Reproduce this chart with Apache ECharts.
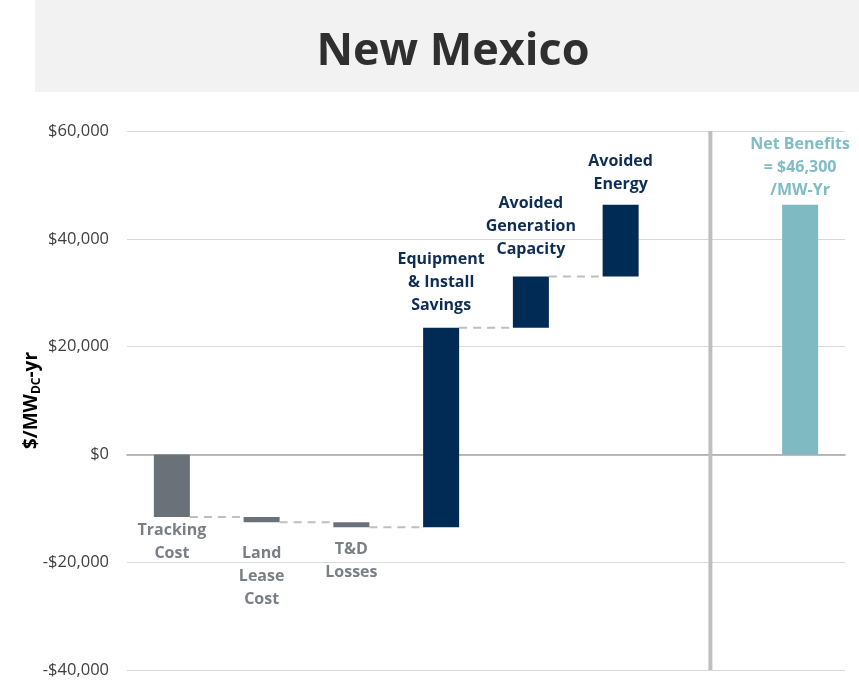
<!DOCTYPE html>
<html lang="en">
<head>
	<meta charset="UTF-8">
	<title>New Mexico</title>
	<style>
		html,body{background-color:#fff;height:100%;overflow:hidden;margin:0;padding:0;}
		#main{width:859px;height:682px;}
	</style>
</head>
<body>
	<div id="main"></div>
	<script src="https://cdn.jsdelivr.net/npm/echarts@6/dist/echarts.min.js"></script>
	<script>
		// waterfall steps, $/MW-yr ('' = gap for the separator line)
		var categories = ['Tracking\nCost', 'Land\nLease\nCost', 'T&D\nLosses', 'Equipment\n& Install\nSavings', 'Avoided\nGeneration\nCapacity', 'Avoided\nEnergy', '', 'Net Benefits\n= $46,300\n/MW-Yr'];
		var deltas = [-11600, -1000, -900, 37000, 9500, 13300, null, 46300];
		var yTicks = [-40000, -20000, 0, 20000, 40000, 60000];

		// label gap from bar end, px (style only)
		var labelGap = [2, 20, 11, 11, 16, 9, 0, 3];

		var GRAY = '#6b7179', NAVY = '#002b54', TEAL = '#7fbac3';

		var rows = [], run = 0;
		for (var i = 0; i < categories.length; i++) {
			if (deltas[i] === null) { rows.push([i, 0, 0]); continue; }
			if (i === categories.length - 1) { rows.push([i, 0, deltas[i]]); continue; }
			rows.push([i, run, run + deltas[i]]);
			run += deltas[i];
		}

		function fmt(v) {
			var s = Math.abs(v).toLocaleString('en-US');
			return (v < 0 ? '-$' : '$') + s;
		}

		function renderItem(params, api) {
			var idx = api.value(0);
			var cs = params.coordSys;
			if (categories[idx] === '') {
				var cx = api.coord([idx, 0])[0];
				return {
					type: 'line',
					shape: {x1: cx, y1: cs.y, x2: cx, y2: cs.y + cs.height},
					style: {stroke: '#bfbfbf', lineWidth: 4}
				};
			}
			var a = api.coord([idx, api.value(1)]);
			var b = api.coord([idx, api.value(2)]);
			var w = 36;
			var last = idx === categories.length - 1;
			var up = api.value(2) >= api.value(1);
			var fill = last ? TEAL : (up ? NAVY : GRAY);
			var txtColor = last ? '#7fbcc6' : (up ? '#0d2d55' : '#7a7f86');
			var top = Math.min(a[1], b[1]), bot = Math.max(a[1], b[1]);
			var children = [{
				type: 'rect',
				shape: {x: a[0] - w / 2, y: top, width: w, height: Math.max(bot - top, 1)},
				style: {fill: fill}
			}, {
				type: 'text',
				x: a[0],
				y: up ? top - labelGap[idx] : bot + labelGap[idx],
				style: {
					text: categories[idx],
					align: 'center',
					verticalAlign: up ? 'bottom' : 'top',
					fill: txtColor,
					font: 'bold 16px "Open Sans", sans-serif',
					lineHeight: 23
				}
			}];
			// dashed connector to the next step
			if (idx < 5) {
				var n = api.coord([idx + 1, api.value(2)]);
				children.push({
					type: 'line',
					shape: {x1: b[0] + w / 2, y1: b[1], x2: n[0] - w / 2, y2: b[1]},
					style: {stroke: '#bfbfbf', lineWidth: 2, lineDash: [8, 6]}
				});
			}
			return {type: 'group', children: children};
		}

		var chart = echarts.init(document.getElementById('main'));
		chart.setOption({
			animation: false,
			title: {
				text: 'New Mexico',
				left: 448,
				top: 25,
				textAlign: 'center',
				textStyle: {color: '#2f2f2f', fontSize: 45, fontWeight: 'bold', fontFamily: 'Open Sans'}
			},
			graphic: [{
				type: 'rect',
				left: 35, top: 0,
				z: -10,
				shape: {width: 824, height: 92},
				style: {fill: '#f2f2f2'}
			}],
			grid: {left: 127, right: 14, top: 131, bottom: 12},
			xAxis: {
				type: 'category',
				data: categories,
				axisLine: {show: true, onZero: true, lineStyle: {color: '#a6a6a6', width: 1.5}},
				axisTick: {show: false},
				axisLabel: {show: false},
				splitLine: {show: false}
			},
			yAxis: {
				type: 'value',
				min: yTicks[0],
				max: yTicks[yTicks.length - 1],
				interval: 20000,
				name: '{a|$/MW}{s|DC}{a|-yr}',
				nameLocation: 'middle',
				nameGap: 84,
				nameMoveOverlap: false,
				nameTextStyle: {
					rich: {
						a: {fontSize: 19, fontWeight: 'bold', color: '#000', fontFamily: 'Open Sans'},
						s: {fontSize: 12, fontWeight: 'bold', color: '#000', fontFamily: 'Open Sans', padding: [10, 0, 0, 0]}
					}
				},
				axisLine: {show: false},
				axisTick: {show: false},
				axisLabel: {
					formatter: fmt,
					margin: 18,
					color: '#404040',
					fontSize: 16.5,
					fontFamily: 'Open Sans'
				},
				splitLine: {lineStyle: {color: '#d9d9d9'}}
			},
			series: [{
				type: 'custom',
				renderItem: renderItem,
				data: rows,
				encode: {x: 0, y: [1, 2]},
				z: 3
			}]
		});
	</script>
</body>
</html>
